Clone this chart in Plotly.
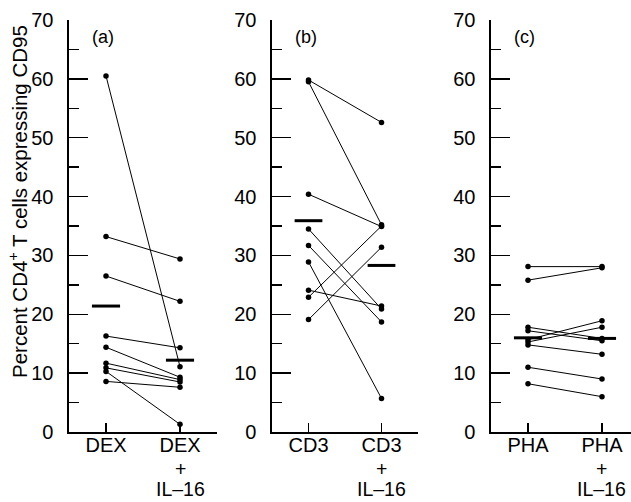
import plotly.graph_objects as go

# ---- data ----
panel_tags = ["(a)", "(b)", "(c)"]
cats_a = ["DEX", "DEX<br>+<br>IL–16"]
cats_b = ["CD3", "CD3<br>+<br>IL–16"]
cats_c = ["PHA", "PHA<br>+<br>IL–16"]

a_before = [60.5, 33.2, 26.5, 16.3, 14.4, 11.7, 10.9, 10.3, 8.6]
a_after = [11.1, 29.4, 22.2, 14.3, 9.3, 8.9, 8.5, 1.3, 7.6]
a_mean = [21.4, 12.2]

b_before = [59.8, 59.5, 40.4, 34.5, 31.7, 28.9, 24.1, 22.9, 19.1]
b_after = [52.6, 35.2, 34.9, 20.9, 18.7, 5.7, 21.4, 35.0, 31.4]
b_mean = [35.9, 28.3]

c_before = [28.1, 25.8, 17.8, 17.2, 15.7, 15.3, 14.8, 11.0, 8.2]
c_after = [28.1, 27.9, 15.9, 15.5, 18.9, 17.8, 13.2, 9.0, 6.0]
c_mean = [16.0, 15.9]

y_title = "Percent CD4<sup>+</sup> T cells expressing CD95"

# ---- styling / layout ----
W, H = 631, 502
FONT = "Liberation Sans, Arial, Helvetica, sans-serif"
domains = [[69 / W, 217 / W], [272 / W, 418 / W], [491 / W, 1.0]]
xranges = [[-0.5, 1.5], [-0.5, 1.5], [-0.5, 1.392]]
MEAN_HALF = 0.19

panels = [
    (cats_a, a_before, a_after, a_mean),
    (cats_b, b_before, b_after, b_mean),
    (cats_c, c_before, c_after, c_mean),
]

fig = go.Figure()
annotations = []
layout = dict(
    width=W, height=H,
    margin=dict(l=0, r=0, t=20, b=70, autoexpand=False),
    paper_bgcolor="white", plot_bgcolor="white",
    showlegend=False,
    font=dict(family=FONT, color="black", size=19),
)

for i, (cats, before, after, mean) in enumerate(panels):
    n = "" if i == 0 else str(i + 1)
    xa, ya = "x" + n, "y" + n
    for b, a in zip(before, after):
        fig.add_trace(go.Scatter(
            x=[0, 1], y=[b, a], xaxis=xa, yaxis=ya, mode="lines+markers",
            line=dict(color="black", width=1),
            marker=dict(color="black", size=5.5),
            hoverinfo="skip", cliponaxis=False,
        ))
    for k, m in enumerate(mean):
        fig.add_trace(go.Scatter(
            x=[k - MEAN_HALF, k + MEAN_HALF], y=[m, m], xaxis=xa, yaxis=ya,
            mode="lines", line=dict(color="black", width=3),
            hoverinfo="skip", cliponaxis=False,
        ))
    first_lines = [c.split("<br>")[0] for c in cats]
    layout["xaxis" + n] = dict(
        domain=domains[i], range=xranges[i], anchor=ya,
        tickvals=[0, 1], ticktext=first_lines,
        ticks="inside", ticklen=9, tickwidth=1.3, tickcolor="black",
        showline=True, linecolor="black", linewidth=1.6,
        showgrid=False, zeroline=False, fixedrange=True, automargin=False,
        tickfont=dict(size=20, family=FONT),
        ticklabelstandoff=-6,
    )
    layout["yaxis" + n] = dict(
        domain=[0, 1], range=[0, 70], anchor=xa,
        tickvals=[0, 10, 20, 30, 40, 50, 60, 70],
        ticks="inside", ticklen=19, tickwidth=1.3, tickcolor="black",
        minor=dict(dtick=5, ticks="inside", ticklen=10, tickwidth=1.3, tickcolor="black"),
        showline=True, linecolor="black", linewidth=1.6,
        showgrid=False, zeroline=False, fixedrange=True, automargin=False,
        tickfont=dict(size=20, family=FONT),
        ticklabelstandoff=10,
    )
    # extra lines of the multi-line category labels
    for k, c in enumerate(cats):
        for j, line in enumerate(c.split("<br>")[1:]):
            annotations.append(dict(
                text=line, xref=xa, yref="paper", x=k, y=0,
                xanchor="center", yanchor="middle", yshift=-37 - 20 * j,
                showarrow=False, borderpad=0, font=dict(size=19.5, family=FONT),
            ))
    annotations.append(dict(
        text=panel_tags[i], xref=xa, yref=ya, x=xranges[i][0], y=70,
        xanchor="left", yanchor="middle", xshift=21, yshift=-17,
        showarrow=False, font=dict(size=18, family=FONT),
    ))

annotations.append(dict(
    text=y_title, xref="paper", yref="paper", x=18 / W, y=(502 - 202 - 70) / 412,
    xanchor="center", yanchor="middle", textangle=-90, showarrow=False,
    font=dict(size=20.5, family=FONT),
))
layout["annotations"] = annotations
fig.update_layout(**layout)
fig.write_html(
    "out.html",
    config={"displayModeBar": False, "staticPlot": True},
    post_script="document.body.style.margin='0';document.body.style.overflow='hidden';",
)
